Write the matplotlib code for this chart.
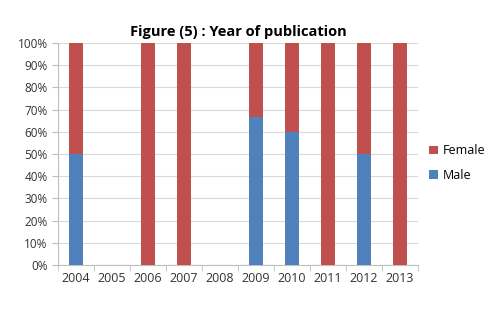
import matplotlib.pyplot as plt
import numpy as np
from matplotlib.ticker import PercentFormatter

years = ['2004', '2005', '2006', '2007', '2008', '2009', '2010', '2011', '2012', '2013']
male = [50, 0, 0, 0, 0, 66.7, 60, 0, 50, 0]
female = [50, 0, 100, 100, 0, 33.3, 40, 100, 50, 100]

MALE_COLOR = '#4F81BD'
FEMALE_COLOR = '#C0504D'

plt.rcParams['font.family'] = ['Open Sans', 'DejaVu Sans']

fig = plt.figure(figsize=(5, 3.1), dpi=100)
ax = fig.add_axes([0.116, 0.145, 0.72, 0.716])

x = np.arange(len(years))
ax.bar(x, male, width=0.4, color=MALE_COLOR, label='Male', zorder=3)
ax.bar(x, female, width=0.4, bottom=male, color=FEMALE_COLOR, label='Female', zorder=3)

ax.set_xlim(-0.5, len(years) - 0.5)
ax.set_ylim(0, 100)
ax.set_yticks(range(0, 101, 10))
ax.yaxis.set_major_formatter(PercentFormatter(decimals=0))
ax.yaxis.grid(True, color='#D9D9D9', linewidth=0.8, zorder=0)

ax.set_xticks(x)
ax.set_xticklabels(years)
ax.set_xticks(np.arange(-0.5, len(years), 1), minor=True)
ax.tick_params(axis='x', which='major', length=0, labelsize=9, colors='#333333', pad=5)
ax.tick_params(axis='x', which='minor', length=4, color='#BFBFBF')
ax.tick_params(axis='y', length=4, color='#BFBFBF', labelsize=8.5, labelcolor='#333333')

for side in ['top', 'right']:
    ax.spines[side].set_visible(False)
for side in ['left', 'bottom']:
    ax.spines[side].set_color('#BFBFBF')

ax.set_title('Figure (5) : Year of publication', fontsize=10.5, fontweight='bold', pad=5)

handles, labels = ax.get_legend_handles_labels()
ax.legend(handles[::-1], labels[::-1], loc='center left', bbox_to_anchor=(1.0, 0.46),
          frameon=False, fontsize=9, handlelength=0.7, handleheight=0.7, handletextpad=0.4,
          labelspacing=0.9)

fig.savefig('out.png', dpi=100, facecolor='white')
